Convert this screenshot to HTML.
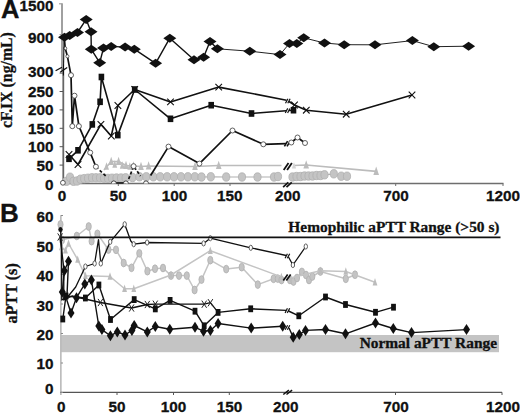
<!DOCTYPE html>
<html><head><meta charset="utf-8"><style>
html,body{margin:0;padding:0;background:#fff;}
svg{display:block;}
</style></head><body>
<svg width="520" height="413" viewBox="0 0 520 413">
<rect width="520" height="413" fill="#fff"/>
<line x1="62" y1="3.6" x2="62" y2="71" stroke="#a0a0a0" stroke-width="2"/>
<line x1="59" y1="3.8" x2="62.5" y2="3.8" stroke="#a0a0a0" stroke-width="1.2"/>
<line x1="59.5" y1="34.5" x2="62" y2="34.5" stroke="#a0a0a0" stroke-width="1"/>
<line x1="63.3" y1="68" x2="63.3" y2="183.5" stroke="#666" stroke-width="1.8"/>
<line x1="62" y1="183.5" x2="503.5" y2="183.5" stroke="#6e6e6e" stroke-width="1.3"/>
<line x1="59.6" y1="73.1" x2="63" y2="73.1" stroke="#555" stroke-width="1"/>
<line x1="59.6" y1="91.5" x2="63" y2="91.5" stroke="#555" stroke-width="1"/>
<line x1="59.6" y1="109.9" x2="63" y2="109.9" stroke="#555" stroke-width="1"/>
<line x1="59.6" y1="128.3" x2="63" y2="128.3" stroke="#555" stroke-width="1"/>
<line x1="59.6" y1="146.7" x2="63" y2="146.7" stroke="#555" stroke-width="1"/>
<line x1="59.6" y1="165.1" x2="63" y2="165.1" stroke="#555" stroke-width="1"/>
<line x1="118.3" y1="183.5" x2="118.3" y2="186" stroke="#6e6e6e" stroke-width="1"/>
<line x1="174.2" y1="183.5" x2="174.2" y2="186" stroke="#6e6e6e" stroke-width="1"/>
<line x1="230" y1="183.5" x2="230" y2="186" stroke="#6e6e6e" stroke-width="1"/>
<line x1="395.7" y1="183.5" x2="395.7" y2="186" stroke="#6e6e6e" stroke-width="1"/>
<line x1="503" y1="183.5" x2="503" y2="186" stroke="#6e6e6e" stroke-width="1"/>
<text x="1" y="17.8" font-family="&quot;Liberation Sans&quot;, sans-serif" font-size="25.5" font-weight="bold" text-anchor="start" fill="#111" stroke="#111" stroke-width="0.3" >A</text>
<text x="53.6" y="11.12" font-family="&quot;Liberation Sans&quot;, sans-serif" font-size="15.3" font-weight="bold" text-anchor="end" fill="#111" stroke="#111" stroke-width="0.3" >1500</text>
<text x="53.6" y="43.12" font-family="&quot;Liberation Sans&quot;, sans-serif" font-size="15.3" font-weight="bold" text-anchor="end" fill="#111" stroke="#111" stroke-width="0.3" >900</text>
<text x="53.6" y="77.42" font-family="&quot;Liberation Sans&quot;, sans-serif" font-size="15.3" font-weight="bold" text-anchor="end" fill="#111" stroke="#111" stroke-width="0.3" >300</text>
<text x="53.6" y="97.32" font-family="&quot;Liberation Sans&quot;, sans-serif" font-size="15.3" font-weight="bold" text-anchor="end" fill="#111" stroke="#111" stroke-width="0.3" >250</text>
<text x="53.6" y="115.02" font-family="&quot;Liberation Sans&quot;, sans-serif" font-size="15.3" font-weight="bold" text-anchor="end" fill="#111" stroke="#111" stroke-width="0.3" >200</text>
<text x="53.6" y="134.02" font-family="&quot;Liberation Sans&quot;, sans-serif" font-size="15.3" font-weight="bold" text-anchor="end" fill="#111" stroke="#111" stroke-width="0.3" >150</text>
<text x="53.6" y="152.42" font-family="&quot;Liberation Sans&quot;, sans-serif" font-size="15.3" font-weight="bold" text-anchor="end" fill="#111" stroke="#111" stroke-width="0.3" >100</text>
<text x="53.6" y="170.92" font-family="&quot;Liberation Sans&quot;, sans-serif" font-size="15.3" font-weight="bold" text-anchor="end" fill="#111" stroke="#111" stroke-width="0.3" >50</text>
<text x="53.6" y="189.52" font-family="&quot;Liberation Sans&quot;, sans-serif" font-size="15.3" font-weight="bold" text-anchor="end" fill="#111" stroke="#111" stroke-width="0.3" >0</text>
<text x="62" y="200.9" font-family="&quot;Liberation Sans&quot;, sans-serif" font-size="15.3" font-weight="bold" text-anchor="middle" fill="#111" stroke="#111" stroke-width="0.3" >0</text>
<text x="118.3" y="200.9" font-family="&quot;Liberation Sans&quot;, sans-serif" font-size="15.3" font-weight="bold" text-anchor="middle" fill="#111" stroke="#111" stroke-width="0.3" >50</text>
<text x="174.5" y="200.9" font-family="&quot;Liberation Sans&quot;, sans-serif" font-size="15.3" font-weight="bold" text-anchor="middle" fill="#111" stroke="#111" stroke-width="0.3" >100</text>
<text x="229.8" y="200.9" font-family="&quot;Liberation Sans&quot;, sans-serif" font-size="15.3" font-weight="bold" text-anchor="middle" fill="#111" stroke="#111" stroke-width="0.3" >150</text>
<text x="287.7" y="200.9" font-family="&quot;Liberation Sans&quot;, sans-serif" font-size="15.3" font-weight="bold" text-anchor="middle" fill="#111" stroke="#111" stroke-width="0.3" >200</text>
<text x="396" y="200.9" font-family="&quot;Liberation Sans&quot;, sans-serif" font-size="15.3" font-weight="bold" text-anchor="middle" fill="#111" stroke="#111" stroke-width="0.3" >700</text>
<text x="503" y="200.9" font-family="&quot;Liberation Sans&quot;, sans-serif" font-size="15.3" font-weight="bold" text-anchor="middle" fill="#111" stroke="#111" stroke-width="0.3" >1200</text>
<text x="0" y="0" font-family="&quot;Liberation Serif&quot;, serif" font-size="15.8" font-weight="bold" text-anchor="middle" fill="#111" stroke="#111" stroke-width="0.3" transform="translate(11.8,80.1) rotate(-90)">cF.IX (ng/mL)</text>
<path d="M55.6,70.8L62,67.2M60.2,72.2L67.2,67.5" stroke="#111" stroke-width="1.3"/>
<path d="M283.1,187.1L288.3,182.3" stroke="#111" stroke-width="1.7"/>
<path d="M286.5,187.1L291.7,182.3" stroke="#111" stroke-width="1.7"/>
<polyline points="104.0,170.0 111.2,161.5 118.6,161.5 126.0,165.5 133.5,166.0 141.0,166.5 148.6,166.0 195.0,166.5 218.7,165.5 281.5,165.5" fill="none" stroke="#bcbcbc" stroke-width="1.7" stroke-linejoin="round" />
<path d="M108.4,165.1L111.2,156.7L114.0,165.1Z" fill="#bcbcbc"/>
<path d="M115.8,165.1L118.6,156.7L121.4,165.1Z" fill="#bcbcbc"/>
<path d="M123.2,169.1L126.0,160.7L128.8,169.1Z" fill="#bcbcbc"/>
<path d="M130.7,169.6L133.5,161.2L136.3,169.6Z" fill="#bcbcbc"/>
<path d="M138.2,170.1L141.0,161.7L143.8,170.1Z" fill="#bcbcbc"/>
<path d="M145.8,169.6L148.6,161.2L151.4,169.6Z" fill="#bcbcbc"/>
<path d="M192.2,170.1L195.0,161.7L197.8,170.1Z" fill="#bcbcbc"/>
<path d="M215.9,169.1L218.7,160.7L221.5,169.1Z" fill="#bcbcbc"/>
<path d="M104.0,169.7L106.5,162.3L109.0,169.7Z" fill="#bcbcbc"/>
<path d="M112.3,167.7L114.8,160.3L117.2,167.7Z" fill="#bcbcbc"/>
<path d="M119.8,168.7L122.3,161.3L124.8,168.7Z" fill="#bcbcbc"/>
<path d="M127.4,169.7L129.8,162.3L132.2,169.7Z" fill="#bcbcbc"/>
<polyline points="293.0,165.5 306.2,165.0 376.2,171.3" fill="none" stroke="#bcbcbc" stroke-width="1.7" stroke-linejoin="round" />
<path d="M291.9,168.5L294.0,162.2L296.1,168.5Z" fill="#d4d4d4"/>
<path d="M303.4,168.6L306.2,160.2L309.0,168.6Z" fill="#bcbcbc"/>
<path d="M373.4,174.9L376.2,166.5L379.0,174.9Z" fill="#bcbcbc"/>
<polyline points="66.5,181.3 70.0,177.2 73.5,181.3 77.0,181.0 80.5,179.2 84.2,178.6 88.0,178.2 92.0,177.8 96.0,177.8 100.0,177.8 104.0,178.2 108.0,178.4 112.0,178.2 116.5,178.0 121.0,178.0 125.6,177.8 132.5,177.5 139.4,176.8 146.3,176.8 153.3,176.8 160.2,176.8 167.1,176.8 174.0,176.8 181.0,176.8 187.9,176.8 194.8,176.8 201.5,177.0 210.8,176.8 226.2,177.0 242.0,177.0 257.5,177.0 274.0,177.0 278.0,176.5" fill="none" stroke="#b0b0b0" stroke-width="1.2" stroke-linejoin="round" />
<ellipse cx="66.5" cy="181.3" rx="3.6" ry="4.2" fill="#c4c4c4" stroke="#b0b0b0" stroke-width="0.8"/>
<ellipse cx="70.0" cy="177.2" rx="3.6" ry="4.2" fill="#c4c4c4" stroke="#b0b0b0" stroke-width="0.8"/>
<ellipse cx="73.5" cy="181.3" rx="3.6" ry="4.2" fill="#c4c4c4" stroke="#b0b0b0" stroke-width="0.8"/>
<ellipse cx="77.0" cy="181.0" rx="3.6" ry="4.2" fill="#c4c4c4" stroke="#b0b0b0" stroke-width="0.8"/>
<ellipse cx="80.5" cy="179.2" rx="3.6" ry="4.2" fill="#c4c4c4" stroke="#b0b0b0" stroke-width="0.8"/>
<ellipse cx="84.2" cy="178.6" rx="3.6" ry="4.2" fill="#c4c4c4" stroke="#b0b0b0" stroke-width="0.8"/>
<ellipse cx="88.0" cy="178.2" rx="3.6" ry="4.2" fill="#c4c4c4" stroke="#b0b0b0" stroke-width="0.8"/>
<ellipse cx="92.0" cy="177.8" rx="3.6" ry="4.2" fill="#c4c4c4" stroke="#b0b0b0" stroke-width="0.8"/>
<ellipse cx="96.0" cy="177.8" rx="3.6" ry="4.2" fill="#c4c4c4" stroke="#b0b0b0" stroke-width="0.8"/>
<ellipse cx="100.0" cy="177.8" rx="3.6" ry="4.2" fill="#c4c4c4" stroke="#b0b0b0" stroke-width="0.8"/>
<ellipse cx="104.0" cy="178.2" rx="3.6" ry="4.2" fill="#c4c4c4" stroke="#b0b0b0" stroke-width="0.8"/>
<ellipse cx="108.0" cy="178.4" rx="3.6" ry="4.2" fill="#c4c4c4" stroke="#b0b0b0" stroke-width="0.8"/>
<ellipse cx="112.0" cy="178.2" rx="3.6" ry="4.2" fill="#c4c4c4" stroke="#b0b0b0" stroke-width="0.8"/>
<ellipse cx="116.5" cy="178.0" rx="3.6" ry="4.2" fill="#c4c4c4" stroke="#b0b0b0" stroke-width="0.8"/>
<ellipse cx="121.0" cy="178.0" rx="3.6" ry="4.2" fill="#c4c4c4" stroke="#b0b0b0" stroke-width="0.8"/>
<ellipse cx="125.6" cy="177.8" rx="3.6" ry="4.2" fill="#c4c4c4" stroke="#b0b0b0" stroke-width="0.8"/>
<ellipse cx="132.5" cy="177.5" rx="3.6" ry="4.2" fill="#c4c4c4" stroke="#b0b0b0" stroke-width="0.8"/>
<ellipse cx="139.4" cy="176.8" rx="3.6" ry="4.2" fill="#c4c4c4" stroke="#b0b0b0" stroke-width="0.8"/>
<ellipse cx="146.3" cy="176.8" rx="3.6" ry="4.2" fill="#c4c4c4" stroke="#b0b0b0" stroke-width="0.8"/>
<ellipse cx="153.3" cy="176.8" rx="3.6" ry="4.2" fill="#c4c4c4" stroke="#b0b0b0" stroke-width="0.8"/>
<ellipse cx="160.2" cy="176.8" rx="3.6" ry="4.2" fill="#c4c4c4" stroke="#b0b0b0" stroke-width="0.8"/>
<ellipse cx="167.1" cy="176.8" rx="3.6" ry="4.2" fill="#c4c4c4" stroke="#b0b0b0" stroke-width="0.8"/>
<ellipse cx="174.0" cy="176.8" rx="3.6" ry="4.2" fill="#c4c4c4" stroke="#b0b0b0" stroke-width="0.8"/>
<ellipse cx="181.0" cy="176.8" rx="3.6" ry="4.2" fill="#c4c4c4" stroke="#b0b0b0" stroke-width="0.8"/>
<ellipse cx="187.9" cy="176.8" rx="3.6" ry="4.2" fill="#c4c4c4" stroke="#b0b0b0" stroke-width="0.8"/>
<ellipse cx="194.8" cy="176.8" rx="3.6" ry="4.2" fill="#c4c4c4" stroke="#b0b0b0" stroke-width="0.8"/>
<ellipse cx="201.5" cy="177.0" rx="3.6" ry="4.2" fill="#c4c4c4" stroke="#b0b0b0" stroke-width="0.8"/>
<ellipse cx="210.8" cy="176.8" rx="3.6" ry="4.2" fill="#c4c4c4" stroke="#b0b0b0" stroke-width="0.8"/>
<ellipse cx="226.2" cy="177.0" rx="3.6" ry="4.2" fill="#c4c4c4" stroke="#b0b0b0" stroke-width="0.8"/>
<ellipse cx="242.0" cy="177.0" rx="3.6" ry="4.2" fill="#c4c4c4" stroke="#b0b0b0" stroke-width="0.8"/>
<ellipse cx="257.5" cy="177.0" rx="3.6" ry="4.2" fill="#c4c4c4" stroke="#b0b0b0" stroke-width="0.8"/>
<ellipse cx="274.0" cy="177.0" rx="3.6" ry="4.2" fill="#c4c4c4" stroke="#b0b0b0" stroke-width="0.8"/>
<ellipse cx="278.0" cy="176.5" rx="3.6" ry="4.2" fill="#c4c4c4" stroke="#b0b0b0" stroke-width="0.8"/>
<polyline points="292.5,177.0 296.5,176.5 300.5,176.5 304.5,176.0 308.5,176.0 312.5,176.0 316.5,175.5 320.5,175.5 324.5,174.8 333.8,173.8 341.2,176.2 347.0,176.2" fill="none" stroke="#b0b0b0" stroke-width="1.2" stroke-linejoin="round" />
<ellipse cx="292.5" cy="177.0" rx="3.6" ry="4.2" fill="#c4c4c4" stroke="#b0b0b0" stroke-width="0.8"/>
<ellipse cx="296.5" cy="176.5" rx="3.6" ry="4.2" fill="#c4c4c4" stroke="#b0b0b0" stroke-width="0.8"/>
<ellipse cx="300.5" cy="176.5" rx="3.6" ry="4.2" fill="#c4c4c4" stroke="#b0b0b0" stroke-width="0.8"/>
<ellipse cx="304.5" cy="176.0" rx="3.6" ry="4.2" fill="#c4c4c4" stroke="#b0b0b0" stroke-width="0.8"/>
<ellipse cx="308.5" cy="176.0" rx="3.6" ry="4.2" fill="#c4c4c4" stroke="#b0b0b0" stroke-width="0.8"/>
<ellipse cx="312.5" cy="176.0" rx="3.6" ry="4.2" fill="#c4c4c4" stroke="#b0b0b0" stroke-width="0.8"/>
<ellipse cx="316.5" cy="175.5" rx="3.6" ry="4.2" fill="#c4c4c4" stroke="#b0b0b0" stroke-width="0.8"/>
<ellipse cx="320.5" cy="175.5" rx="3.6" ry="4.2" fill="#c4c4c4" stroke="#b0b0b0" stroke-width="0.8"/>
<ellipse cx="324.5" cy="174.8" rx="3.6" ry="4.2" fill="#c4c4c4" stroke="#b0b0b0" stroke-width="0.8"/>
<ellipse cx="333.8" cy="173.8" rx="3.6" ry="4.2" fill="#c4c4c4" stroke="#b0b0b0" stroke-width="0.8"/>
<ellipse cx="341.2" cy="176.2" rx="3.6" ry="4.2" fill="#c4c4c4" stroke="#b0b0b0" stroke-width="0.8"/>
<ellipse cx="347.0" cy="176.2" rx="3.6" ry="4.2" fill="#c4c4c4" stroke="#b0b0b0" stroke-width="0.8"/>
<polyline points="64.5,40.0 65.2,48.3 67.4,56.3 71.0,75.2 72.3,126.2 74.5,95.7 78.9,126.2 90.2,152.6 95.9,166.7" fill="none" stroke="#111" stroke-width="1.7" stroke-linejoin="round" />
<polyline points="95.9,166.7 105.7,175.9" fill="none" stroke="#111" stroke-width="1.7" stroke-dasharray="3,2.2" stroke-linejoin="round" />
<polyline points="113.8,182.9 125.9,182.9" fill="none" stroke="#111" stroke-width="1.5" stroke-linejoin="round" />
<polyline points="128.7,179.0 133.6,166.2 140.5,176.0" fill="none" stroke="#111" stroke-width="1.7" stroke-dasharray="3,2" stroke-linejoin="round" />
<polyline points="150.6,175.5 168.5,146.6 199.4,163.6 232.5,130.5 263.3,144.3 286.0,143.6" fill="none" stroke="#111" stroke-width="1.7" stroke-linejoin="round" />
<polyline points="289.0,142.8 291.3,142.5 297.5,137.5 305.0,143.0" fill="none" stroke="#111" stroke-width="1.7" stroke-linejoin="round" />
<path d="M283.7,170.1L288.5,162.9" stroke="#111" stroke-width="1.8"/>
<path d="M287.1,170.1L291.9,162.9" stroke="#111" stroke-width="1.8"/>
<polyline points="64.5,37.2 69.7,35.5 77.5,32.5 86.2,19.4 91.0,31.7 91.3,49.3 99.7,62.7 103.5,48.1 111.2,46.4 125.1,47.1 134.3,49.2 155.6,63.3 169.8,38.2 194.0,59.8 203.6,57.2 210.0,41.6 217.4,48.8" fill="none" stroke="#111" stroke-width="1.4" stroke-linejoin="round" />
<polyline points="217.4,48.8 249.8,51.2 280.0,54.6 289.5,43.4 296.8,43.4 303.7,37.8 324.5,43.0 344.2,44.7 375.0,44.8 412.4,40.6 433.8,46.7 468.6,46.2" fill="none" stroke="#222" stroke-width="1.0" stroke-linejoin="round" />
<path d="M58.0,37.2L64.5,32.7L71.0,37.2L64.5,41.7Z" fill="#111"/>
<path d="M63.2,35.5L69.7,31.0L76.2,35.5L69.7,40.0Z" fill="#111"/>
<path d="M71.0,32.5L77.5,28.0L84.0,32.5L77.5,37.0Z" fill="#111"/>
<path d="M79.7,19.4L86.2,14.9L92.7,19.4L86.2,23.9Z" fill="#111"/>
<path d="M84.5,31.7L91.0,27.2L97.5,31.7L91.0,36.2Z" fill="#111"/>
<path d="M84.8,49.3L91.3,44.8L97.8,49.3L91.3,53.8Z" fill="#111"/>
<path d="M93.2,62.7L99.7,58.2L106.2,62.7L99.7,67.2Z" fill="#111"/>
<path d="M97.0,48.1L103.5,43.6L110.0,48.1L103.5,52.6Z" fill="#111"/>
<path d="M104.7,46.4L111.2,41.9L117.7,46.4L111.2,50.9Z" fill="#111"/>
<path d="M118.6,47.1L125.1,42.6L131.6,47.1L125.1,51.6Z" fill="#111"/>
<path d="M127.8,49.2L134.3,44.7L140.8,49.2L134.3,53.7Z" fill="#111"/>
<path d="M149.1,63.3L155.6,58.8L162.1,63.3L155.6,67.8Z" fill="#111"/>
<path d="M163.3,38.2L169.8,33.7L176.3,38.2L169.8,42.7Z" fill="#111"/>
<path d="M187.5,59.8L194.0,55.3L200.5,59.8L194.0,64.3Z" fill="#111"/>
<path d="M197.1,57.2L203.6,52.7L210.1,57.2L203.6,61.7Z" fill="#111"/>
<path d="M203.5,41.6L210.0,37.1L216.5,41.6L210.0,46.1Z" fill="#111"/>
<path d="M210.9,48.8L217.4,44.3L223.9,48.8L217.4,53.3Z" fill="#111"/>
<path d="M243.3,51.2L249.8,46.7L256.3,51.2L249.8,55.7Z" fill="#111"/>
<path d="M273.5,54.6L280.0,50.1L286.5,54.6L280.0,59.1Z" fill="#111"/>
<path d="M283.0,43.4L289.5,38.9L296.0,43.4L289.5,47.9Z" fill="#111"/>
<path d="M290.3,43.4L296.8,38.9L303.3,43.4L296.8,47.9Z" fill="#111"/>
<path d="M297.2,37.8L303.7,33.3L310.2,37.8L303.7,42.3Z" fill="#111"/>
<path d="M318.0,43.0L324.5,38.5L331.0,43.0L324.5,47.5Z" fill="#111"/>
<path d="M337.7,44.7L344.2,40.2L350.7,44.7L344.2,49.2Z" fill="#111"/>
<path d="M368.5,44.8L375.0,40.3L381.5,44.8L375.0,49.3Z" fill="#111"/>
<path d="M405.9,40.6L412.4,36.1L418.9,40.6L412.4,45.1Z" fill="#111"/>
<path d="M427.3,46.7L433.8,42.2L440.3,46.7L433.8,51.2Z" fill="#111"/>
<path d="M462.1,46.2L468.6,41.7L475.1,46.2L468.6,50.7Z" fill="#111"/>
<path d="M284.4,146.4L287.6,141.2" stroke="#111" stroke-width="1.6"/>
<path d="M287.0,146.4L290.2,141.2" stroke="#111" stroke-width="1.6"/>
<circle cx="65.2" cy="48.3" r="1.6" fill="#fff" stroke="#444" stroke-width="0.8"/>
<circle cx="67.4" cy="56.3" r="1.6" fill="#fff" stroke="#444" stroke-width="0.8"/>
<clipPath id="cpA"><rect x="0" y="0" width="520" height="183.6"/></clipPath>
<g clip-path="url(#cpA)">
<circle cx="113.8" cy="183.4" r="2.5" fill="#fff" stroke="#333" stroke-width="0.85"/>
<circle cx="125.9" cy="183.4" r="2.5" fill="#fff" stroke="#333" stroke-width="0.85"/>
<circle cx="146.0" cy="183.4" r="2.5" fill="#fff" stroke="#333" stroke-width="0.85"/>
</g>
<circle cx="71.0" cy="75.2" r="2.5" fill="#fff" stroke="#444" stroke-width="0.85"/>
<circle cx="72.3" cy="126.2" r="2.5" fill="#fff" stroke="#444" stroke-width="0.85"/>
<circle cx="74.5" cy="95.7" r="2.5" fill="#fff" stroke="#444" stroke-width="0.85"/>
<circle cx="78.9" cy="126.2" r="2.5" fill="#fff" stroke="#444" stroke-width="0.85"/>
<circle cx="90.2" cy="152.6" r="2.5" fill="#fff" stroke="#444" stroke-width="0.85"/>
<circle cx="95.9" cy="166.7" r="2.5" fill="#fff" stroke="#444" stroke-width="0.85"/>
<circle cx="133.6" cy="166.2" r="2.5" fill="#fff" stroke="#444" stroke-width="0.85"/>
<circle cx="168.5" cy="146.6" r="2.5" fill="#fff" stroke="#444" stroke-width="0.85"/>
<circle cx="199.4" cy="163.6" r="2.5" fill="#fff" stroke="#444" stroke-width="0.85"/>
<circle cx="232.5" cy="130.5" r="2.5" fill="#fff" stroke="#444" stroke-width="0.85"/>
<circle cx="263.3" cy="144.3" r="2.5" fill="#fff" stroke="#444" stroke-width="0.85"/>
<circle cx="291.3" cy="142.5" r="2.5" fill="#fff" stroke="#444" stroke-width="0.85"/>
<circle cx="297.5" cy="137.5" r="2.5" fill="#fff" stroke="#444" stroke-width="0.85"/>
<circle cx="305.0" cy="143.0" r="2.5" fill="#fff" stroke="#444" stroke-width="0.85"/>
<circle cx="62.9" cy="182.8" r="2.4" fill="#fff" stroke="#555" stroke-width="1"/>
<polyline points="64.0,40.0 63.4,75.5" fill="none" stroke="#111" stroke-width="1.1" stroke-linejoin="round" />
<polyline points="69.0,158.8 78.0,150.3 92.3,124.4 100.1,101.8 101.4,77.0 117.8,135.1 134.7,89.5 170.5,118.8 211.2,105.2 251.5,113.5 286.0,110.8" fill="none" stroke="#111" stroke-width="1.6" stroke-linejoin="round" />
<polyline points="289.0,110.5 293.5,110.2" fill="none" stroke="#111" stroke-width="1.6" stroke-linejoin="round" />
<rect x="66.2" y="155.5" width="5.6" height="6.6" fill="#111"/>
<rect x="75.2" y="147.0" width="5.6" height="6.6" fill="#111"/>
<rect x="89.5" y="121.1" width="5.6" height="6.6" fill="#111"/>
<rect x="97.3" y="98.5" width="5.6" height="6.6" fill="#111"/>
<rect x="98.6" y="73.7" width="5.6" height="6.6" fill="#111"/>
<rect x="115.0" y="131.8" width="5.6" height="6.6" fill="#111"/>
<rect x="131.9" y="86.2" width="5.6" height="6.6" fill="#111"/>
<rect x="167.7" y="115.5" width="5.6" height="6.6" fill="#111"/>
<rect x="208.4" y="101.9" width="5.6" height="6.6" fill="#111"/>
<rect x="248.7" y="110.2" width="5.6" height="6.6" fill="#111"/>
<rect x="290.7" y="106.9" width="5.6" height="6.6" fill="#111"/>
<path d="M285.3,113.0L287.7,108.4" stroke="#111" stroke-width="1.2"/>
<path d="M287.6,113.0L289.9,108.4" stroke="#111" stroke-width="1.2"/>
<polyline points="69.0,154.5 78.0,164.5 100.9,124.4 111.3,136.0 117.9,105.5 134.7,89.5 170.5,101.9 218.7,87.1 286.5,100.2" fill="none" stroke="#111" stroke-width="1.6" stroke-linejoin="round" />
<polyline points="289.0,101.5 294.5,105.0 306.3,110.2 346.2,114.2 412.0,95.0" fill="none" stroke="#111" stroke-width="1.6" stroke-linejoin="round" />
<path d="M65.7,151.2L72.3,157.8M65.7,157.8L72.3,151.2" stroke="#111" stroke-width="1.1" fill="none"/>
<path d="M74.7,161.2L81.3,167.8M74.7,167.8L81.3,161.2" stroke="#111" stroke-width="1.1" fill="none"/>
<path d="M97.6,121.1L104.2,127.7M97.6,127.7L104.2,121.1" stroke="#111" stroke-width="1.1" fill="none"/>
<path d="M108.0,132.7L114.6,139.3M108.0,139.3L114.6,132.7" stroke="#111" stroke-width="1.1" fill="none"/>
<path d="M114.6,102.2L121.2,108.8M114.6,108.8L121.2,102.2" stroke="#111" stroke-width="1.1" fill="none"/>
<path d="M131.4,86.2L138.0,92.8M131.4,92.8L138.0,86.2" stroke="#111" stroke-width="1.1" fill="none"/>
<path d="M167.2,98.6L173.8,105.2M167.2,105.2L173.8,98.6" stroke="#111" stroke-width="1.1" fill="none"/>
<path d="M215.4,83.8L222.0,90.4M215.4,90.4L222.0,83.8" stroke="#111" stroke-width="1.1" fill="none"/>
<path d="M291.2,101.7L297.8,108.3M291.2,108.3L297.8,101.7" stroke="#111" stroke-width="1.1" fill="none"/>
<path d="M303.0,106.9L309.6,113.5M303.0,113.5L309.6,106.9" stroke="#111" stroke-width="1.1" fill="none"/>
<path d="M342.9,110.9L349.5,117.5M342.9,117.5L349.5,110.9" stroke="#111" stroke-width="1.1" fill="none"/>
<path d="M408.7,91.7L415.3,98.3M408.7,98.3L415.3,91.7" stroke="#111" stroke-width="1.1" fill="none"/>
<path d="M285.5,103.3L287.9,98.7" stroke="#111" stroke-width="1.2"/>
<path d="M287.8,103.3L290.1,98.7" stroke="#111" stroke-width="1.2"/>
<rect x="61.4" y="335" width="437.6" height="17.2" fill="#c4c4c4"/>
<line x1="60.9" y1="215.3" x2="60.9" y2="395" stroke="#9a9a9a" stroke-width="1.1"/>
<line x1="60.5" y1="392.3" x2="502" y2="392.3" stroke="#555" stroke-width="1.3"/>
<line x1="60.9" y1="392.5" x2="63" y2="392.5" stroke="#8a8a8a" stroke-width="1"/>
<line x1="60.9" y1="363.0" x2="63" y2="363.0" stroke="#8a8a8a" stroke-width="1"/>
<line x1="60.9" y1="333.5" x2="63" y2="333.5" stroke="#8a8a8a" stroke-width="1"/>
<line x1="60.9" y1="304.0" x2="63" y2="304.0" stroke="#8a8a8a" stroke-width="1"/>
<line x1="60.9" y1="274.5" x2="63" y2="274.5" stroke="#8a8a8a" stroke-width="1"/>
<line x1="60.9" y1="245.0" x2="63" y2="245.0" stroke="#8a8a8a" stroke-width="1"/>
<line x1="60.9" y1="215.5" x2="63" y2="215.5" stroke="#8a8a8a" stroke-width="1"/>
<line x1="117" y1="392.3" x2="117" y2="395" stroke="#555" stroke-width="1"/>
<line x1="173.5" y1="392.3" x2="173.5" y2="395" stroke="#555" stroke-width="1"/>
<line x1="229.3" y1="392.3" x2="229.3" y2="395" stroke="#555" stroke-width="1"/>
<line x1="395.5" y1="392.3" x2="395.5" y2="395" stroke="#555" stroke-width="1"/>
<line x1="502" y1="392.3" x2="502" y2="395" stroke="#555" stroke-width="1"/>
<text x="0" y="222" font-family="&quot;Liberation Sans&quot;, sans-serif" font-size="26" font-weight="bold" text-anchor="start" fill="#111" stroke="#111" stroke-width="0.3" >B</text>
<text x="53.6" y="221.72" font-family="&quot;Liberation Sans&quot;, sans-serif" font-size="15.3" font-weight="bold" text-anchor="end" fill="#111" stroke="#111" stroke-width="0.3" >60</text>
<text x="53.6" y="251.72" font-family="&quot;Liberation Sans&quot;, sans-serif" font-size="15.3" font-weight="bold" text-anchor="end" fill="#111" stroke="#111" stroke-width="0.3" >50</text>
<text x="53.6" y="281.02" font-family="&quot;Liberation Sans&quot;, sans-serif" font-size="15.3" font-weight="bold" text-anchor="end" fill="#111" stroke="#111" stroke-width="0.3" >40</text>
<text x="53.6" y="310.92" font-family="&quot;Liberation Sans&quot;, sans-serif" font-size="15.3" font-weight="bold" text-anchor="end" fill="#111" stroke="#111" stroke-width="0.3" >30</text>
<text x="53.6" y="339.92" font-family="&quot;Liberation Sans&quot;, sans-serif" font-size="15.3" font-weight="bold" text-anchor="end" fill="#111" stroke="#111" stroke-width="0.3" >20</text>
<text x="53.6" y="369.02" font-family="&quot;Liberation Sans&quot;, sans-serif" font-size="15.3" font-weight="bold" text-anchor="end" fill="#111" stroke="#111" stroke-width="0.3" >10</text>
<text x="53.6" y="394.42" font-family="&quot;Liberation Sans&quot;, sans-serif" font-size="15.3" font-weight="bold" text-anchor="end" fill="#111" stroke="#111" stroke-width="0.3" >0</text>
<text x="61.3" y="412.3" font-family="&quot;Liberation Sans&quot;, sans-serif" font-size="15.3" font-weight="bold" text-anchor="middle" fill="#111" stroke="#111" stroke-width="0.3" >0</text>
<text x="116.9" y="412.3" font-family="&quot;Liberation Sans&quot;, sans-serif" font-size="15.3" font-weight="bold" text-anchor="middle" fill="#111" stroke="#111" stroke-width="0.3" >50</text>
<text x="173.4" y="412.3" font-family="&quot;Liberation Sans&quot;, sans-serif" font-size="15.3" font-weight="bold" text-anchor="middle" fill="#111" stroke="#111" stroke-width="0.3" >100</text>
<text x="229.4" y="412.3" font-family="&quot;Liberation Sans&quot;, sans-serif" font-size="15.3" font-weight="bold" text-anchor="middle" fill="#111" stroke="#111" stroke-width="0.3" >150</text>
<text x="285.7" y="412.3" font-family="&quot;Liberation Sans&quot;, sans-serif" font-size="15.3" font-weight="bold" text-anchor="middle" fill="#111" stroke="#111" stroke-width="0.3" >200</text>
<text x="396" y="412.3" font-family="&quot;Liberation Sans&quot;, sans-serif" font-size="15.3" font-weight="bold" text-anchor="middle" fill="#111" stroke="#111" stroke-width="0.3" >700</text>
<text x="503" y="412.3" font-family="&quot;Liberation Sans&quot;, sans-serif" font-size="15.3" font-weight="bold" text-anchor="middle" fill="#111" stroke="#111" stroke-width="0.3" >1200</text>
<text x="0" y="0" font-family="&quot;Liberation Serif&quot;, serif" font-size="16.2" font-weight="bold" text-anchor="middle" fill="#111" stroke="#111" stroke-width="0.3" transform="translate(17,293.4) rotate(-90)">aPTT (s)</text>
<path d="M283.3,394.5L288.9,390.1" stroke="#111" stroke-width="1.5"/>
<path d="M286.5,394.5L292.1,390.1" stroke="#111" stroke-width="1.5"/>
<text x="499.5" y="232" font-family="&quot;Liberation Serif&quot;, serif" font-size="15.4" font-weight="bold" text-anchor="end" fill="#111" stroke="#111" stroke-width="0.3" >Hemophilic aPTT Range (&gt;50 s)</text>
<text x="497" y="347.6" font-family="&quot;Liberation Serif&quot;, serif" font-size="15.4" font-weight="bold" text-anchor="end" fill="#111" stroke="#111" stroke-width="0.3" >Normal aPTT Range</text>
<polyline points="60.5,224.5 62.0,240.0 76.8,236.0 88.7,226.5 91.6,241.2 97.4,233.8 108.4,249.6 116.0,249.8 123.7,263.0 131.5,267.8 139.3,253.3 147.4,271.2 155.0,268.7 163.0,268.0 171.0,275.6 179.0,275.6 186.8,275.6 194.6,290.0 201.5,279.6 210.3,260.2 226.2,269.1 241.7,267.2 257.8,284.6 273.6,278.8 277.8,278.6 281.5,280.0" fill="none" stroke="#c4c4c4" stroke-width="1.5" stroke-linejoin="round" />
<ellipse cx="60.5" cy="224.5" rx="2.6" ry="3.9" fill="#c4c4c4" stroke="#b0b0b0" stroke-width="0.8"/>
<ellipse cx="62.0" cy="240.0" rx="2.6" ry="3.9" fill="#c4c4c4" stroke="#b0b0b0" stroke-width="0.8"/>
<ellipse cx="76.8" cy="236.0" rx="2.6" ry="3.9" fill="#c4c4c4" stroke="#b0b0b0" stroke-width="0.8"/>
<ellipse cx="88.7" cy="226.5" rx="2.6" ry="3.9" fill="#c4c4c4" stroke="#b0b0b0" stroke-width="0.8"/>
<ellipse cx="91.6" cy="241.2" rx="2.6" ry="3.9" fill="#c4c4c4" stroke="#b0b0b0" stroke-width="0.8"/>
<ellipse cx="97.4" cy="233.8" rx="2.6" ry="3.9" fill="#c4c4c4" stroke="#b0b0b0" stroke-width="0.8"/>
<ellipse cx="108.4" cy="249.6" rx="2.6" ry="3.9" fill="#c4c4c4" stroke="#b0b0b0" stroke-width="0.8"/>
<ellipse cx="116.0" cy="249.8" rx="2.6" ry="3.9" fill="#c4c4c4" stroke="#b0b0b0" stroke-width="0.8"/>
<ellipse cx="123.7" cy="263.0" rx="2.6" ry="3.9" fill="#c4c4c4" stroke="#b0b0b0" stroke-width="0.8"/>
<ellipse cx="131.5" cy="267.8" rx="2.6" ry="3.9" fill="#c4c4c4" stroke="#b0b0b0" stroke-width="0.8"/>
<ellipse cx="139.3" cy="253.3" rx="2.6" ry="3.9" fill="#c4c4c4" stroke="#b0b0b0" stroke-width="0.8"/>
<ellipse cx="147.4" cy="271.2" rx="2.6" ry="3.9" fill="#c4c4c4" stroke="#b0b0b0" stroke-width="0.8"/>
<ellipse cx="155.0" cy="268.7" rx="2.6" ry="3.9" fill="#c4c4c4" stroke="#b0b0b0" stroke-width="0.8"/>
<ellipse cx="163.0" cy="268.0" rx="2.6" ry="3.9" fill="#c4c4c4" stroke="#b0b0b0" stroke-width="0.8"/>
<ellipse cx="171.0" cy="275.6" rx="2.6" ry="3.9" fill="#c4c4c4" stroke="#b0b0b0" stroke-width="0.8"/>
<ellipse cx="179.0" cy="275.6" rx="2.6" ry="3.9" fill="#c4c4c4" stroke="#b0b0b0" stroke-width="0.8"/>
<ellipse cx="186.8" cy="275.6" rx="2.6" ry="3.9" fill="#c4c4c4" stroke="#b0b0b0" stroke-width="0.8"/>
<ellipse cx="194.6" cy="290.0" rx="2.6" ry="3.9" fill="#c4c4c4" stroke="#b0b0b0" stroke-width="0.8"/>
<ellipse cx="201.5" cy="279.6" rx="2.6" ry="3.9" fill="#c4c4c4" stroke="#b0b0b0" stroke-width="0.8"/>
<ellipse cx="210.3" cy="260.2" rx="2.6" ry="3.9" fill="#c4c4c4" stroke="#b0b0b0" stroke-width="0.8"/>
<ellipse cx="226.2" cy="269.1" rx="2.6" ry="3.9" fill="#c4c4c4" stroke="#b0b0b0" stroke-width="0.8"/>
<ellipse cx="241.7" cy="267.2" rx="2.6" ry="3.9" fill="#c4c4c4" stroke="#b0b0b0" stroke-width="0.8"/>
<ellipse cx="257.8" cy="284.6" rx="2.6" ry="3.9" fill="#c4c4c4" stroke="#b0b0b0" stroke-width="0.8"/>
<ellipse cx="273.6" cy="278.8" rx="2.6" ry="3.9" fill="#c4c4c4" stroke="#b0b0b0" stroke-width="0.8"/>
<ellipse cx="277.8" cy="278.6" rx="2.6" ry="3.9" fill="#c4c4c4" stroke="#b0b0b0" stroke-width="0.8"/>
<ellipse cx="281.5" cy="280.0" rx="2.6" ry="3.9" fill="#c4c4c4" stroke="#b0b0b0" stroke-width="0.8"/>
<polyline points="290.0,280.0 293.5,281.5 297.0,278.0 301.9,271.9 306.0,275.0 309.0,280.0 312.3,276.5 320.4,271.5 345.8,278.8 355.0,274.7" fill="none" stroke="#c4c4c4" stroke-width="1.5" stroke-linejoin="round" />
<ellipse cx="290.0" cy="280.0" rx="2.6" ry="3.9" fill="#c4c4c4" stroke="#b0b0b0" stroke-width="0.8"/>
<ellipse cx="293.5" cy="281.5" rx="2.6" ry="3.9" fill="#c4c4c4" stroke="#b0b0b0" stroke-width="0.8"/>
<ellipse cx="297.0" cy="278.0" rx="2.6" ry="3.9" fill="#c4c4c4" stroke="#b0b0b0" stroke-width="0.8"/>
<ellipse cx="301.9" cy="271.9" rx="2.6" ry="3.9" fill="#c4c4c4" stroke="#b0b0b0" stroke-width="0.8"/>
<ellipse cx="306.0" cy="275.0" rx="2.6" ry="3.9" fill="#c4c4c4" stroke="#b0b0b0" stroke-width="0.8"/>
<ellipse cx="309.0" cy="280.0" rx="2.6" ry="3.9" fill="#c4c4c4" stroke="#b0b0b0" stroke-width="0.8"/>
<ellipse cx="312.3" cy="276.5" rx="2.6" ry="3.9" fill="#c4c4c4" stroke="#b0b0b0" stroke-width="0.8"/>
<ellipse cx="320.4" cy="271.5" rx="2.6" ry="3.9" fill="#c4c4c4" stroke="#b0b0b0" stroke-width="0.8"/>
<ellipse cx="345.8" cy="278.8" rx="2.6" ry="3.9" fill="#c4c4c4" stroke="#b0b0b0" stroke-width="0.8"/>
<ellipse cx="355.0" cy="274.7" rx="2.6" ry="3.9" fill="#c4c4c4" stroke="#b0b0b0" stroke-width="0.8"/>
<polyline points="61.5,247.0 65.4,250.4 68.5,243.5 77.7,259.6 85.4,275.8 110.0,276.5 124.6,288.8 133.8,288.8 171.0,275.0 210.3,250.7 281.4,276.9" fill="none" stroke="#c4c4c4" stroke-width="1.5" stroke-linejoin="round" />
<path d="M59.0,250.2L61.5,242.8L64.0,250.2Z" fill="#bcbcbc"/>
<path d="M63.0,253.6L65.4,246.2L67.9,253.6Z" fill="#bcbcbc"/>
<path d="M66.0,246.7L68.5,239.3L71.0,246.7Z" fill="#bcbcbc"/>
<path d="M75.2,262.8L77.7,255.4L80.2,262.8Z" fill="#bcbcbc"/>
<path d="M83.0,279.0L85.4,271.6L87.9,279.0Z" fill="#bcbcbc"/>
<path d="M107.5,279.7L110.0,272.3L112.5,279.7Z" fill="#bcbcbc"/>
<path d="M122.1,292.0L124.6,284.6L127.0,292.0Z" fill="#bcbcbc"/>
<path d="M131.4,292.0L133.8,284.6L136.2,292.0Z" fill="#bcbcbc"/>
<path d="M168.6,278.2L171.0,270.8L173.4,278.2Z" fill="#bcbcbc"/>
<path d="M207.9,253.9L210.3,246.5L212.8,253.9Z" fill="#bcbcbc"/>
<path d="M278.9,280.1L281.4,272.7L283.8,280.1Z" fill="#bcbcbc"/>
<polyline points="290.0,278.0 320.4,270.8 345.8,271.5 375.0,282.3" fill="none" stroke="#c4c4c4" stroke-width="1.5" stroke-linejoin="round" />
<path d="M287.6,281.2L290.0,273.8L292.4,281.2Z" fill="#bcbcbc"/>
<path d="M317.9,274.0L320.4,266.6L322.8,274.0Z" fill="#bcbcbc"/>
<path d="M343.4,274.7L345.8,267.3L348.2,274.7Z" fill="#bcbcbc"/>
<path d="M372.6,285.5L375.0,278.1L377.4,285.5Z" fill="#bcbcbc"/>
<path d="M283.3,280.5L287.7,274.5" stroke="#111" stroke-width="1.7"/>
<path d="M286.3,280.5L290.7,274.5" stroke="#111" stroke-width="1.7"/>
<polyline points="60.5,229.0 61.6,247.0 61.8,300.0 68.0,296.5 75.7,287.0 85.4,266.5 94.6,263.5 98.5,239.6 100.8,263.5 110.2,241.8 124.7,224.3 130.8,241.0 133.7,244.2 147.1,242.5 203.6,243.4 210.3,238.2 250.8,247.8 286.2,255.5" fill="none" stroke="#111" stroke-width="1.3" stroke-linejoin="round" />
<polyline points="288.5,257.0 292.9,265.0 305.8,246.5" fill="none" stroke="#111" stroke-width="1.3" stroke-linejoin="round" />
<ellipse cx="60.5" cy="229.5" rx="2.2" ry="2.6" fill="#111"/>
<ellipse cx="85.4" cy="266.5" rx="1.7" ry="2.6" fill="#fff" stroke="#444" stroke-width="0.85"/>
<ellipse cx="94.6" cy="263.5" rx="1.7" ry="2.6" fill="#fff" stroke="#444" stroke-width="0.85"/>
<ellipse cx="100.8" cy="263.5" rx="1.7" ry="2.6" fill="#fff" stroke="#444" stroke-width="0.85"/>
<ellipse cx="110.2" cy="241.8" rx="1.7" ry="2.6" fill="#fff" stroke="#444" stroke-width="0.85"/>
<ellipse cx="124.7" cy="224.3" rx="1.7" ry="2.6" fill="#fff" stroke="#444" stroke-width="0.85"/>
<ellipse cx="133.7" cy="244.2" rx="1.7" ry="2.6" fill="#fff" stroke="#444" stroke-width="0.85"/>
<ellipse cx="147.1" cy="242.5" rx="1.7" ry="2.6" fill="#fff" stroke="#444" stroke-width="0.85"/>
<ellipse cx="203.6" cy="243.4" rx="1.7" ry="2.6" fill="#fff" stroke="#444" stroke-width="0.85"/>
<ellipse cx="210.3" cy="238.2" rx="1.7" ry="2.6" fill="#fff" stroke="#444" stroke-width="0.85"/>
<ellipse cx="250.8" cy="247.8" rx="1.7" ry="2.6" fill="#fff" stroke="#444" stroke-width="0.85"/>
<ellipse cx="292.9" cy="265.0" rx="1.7" ry="2.6" fill="#fff" stroke="#444" stroke-width="0.85"/>
<ellipse cx="305.8" cy="246.5" rx="1.7" ry="2.6" fill="#fff" stroke="#444" stroke-width="0.85"/>
<path d="M285.1,258.3L287.4,253.7" stroke="#111" stroke-width="1.2"/>
<path d="M287.3,258.3L289.7,253.7" stroke="#111" stroke-width="1.2"/>
<polyline points="60.1,237.0 63.8,268.0 63.8,300.0 72.0,296.0 100.4,302.5 131.6,308.0 147.3,304.5 155.3,304.2 204.2,304.2 210.4,302.7 218.1,312.4" fill="none" stroke="#111" stroke-width="1.3" stroke-linejoin="round" />
<path d="M57.7,233.4L62.5,240.6M57.7,240.6L62.5,233.4" stroke="#222" stroke-width="1" fill="none"/>
<path d="M98.0,298.9L102.8,306.1M98.0,306.1L102.8,298.9" stroke="#222" stroke-width="1" fill="none"/>
<path d="M129.2,304.4L134.0,311.6M129.2,311.6L134.0,304.4" stroke="#222" stroke-width="1" fill="none"/>
<path d="M144.9,300.9L149.7,308.1M144.9,308.1L149.7,300.9" stroke="#222" stroke-width="1" fill="none"/>
<path d="M152.9,300.6L157.7,307.8M152.9,307.8L157.7,300.6" stroke="#222" stroke-width="1" fill="none"/>
<path d="M201.8,300.6L206.6,307.8M201.8,307.8L206.6,300.6" stroke="#222" stroke-width="1" fill="none"/>
<path d="M208.0,299.1L212.8,306.3M208.0,306.3L212.8,299.1" stroke="#222" stroke-width="1" fill="none"/>
<polyline points="62.8,319.0 66.0,296.0 85.4,298.0 98.9,285.0 110.5,319.5 134.2,299.6 155.3,308.9 170.1,300.4 195.0,311.2 204.2,325.8 218.1,312.4 250.7,308.8 286.3,310.4" fill="none" stroke="#111" stroke-width="1.4" stroke-linejoin="round" />
<polyline points="288.5,311.0 298.8,315.8 325.5,297.0 345.5,304.5 375.5,312.3 393.5,307.2" fill="none" stroke="#111" stroke-width="1.4" stroke-linejoin="round" />
<rect x="60.4" y="315.6" width="4.8" height="6.8" fill="#111"/>
<rect x="63.6" y="292.6" width="4.8" height="6.8" fill="#111"/>
<rect x="83.0" y="294.6" width="4.8" height="6.8" fill="#111"/>
<rect x="96.5" y="281.6" width="4.8" height="6.8" fill="#111"/>
<rect x="108.1" y="316.1" width="4.8" height="6.8" fill="#111"/>
<rect x="131.8" y="296.2" width="4.8" height="6.8" fill="#111"/>
<rect x="152.9" y="305.5" width="4.8" height="6.8" fill="#111"/>
<rect x="167.7" y="297.0" width="4.8" height="6.8" fill="#111"/>
<rect x="192.6" y="307.8" width="4.8" height="6.8" fill="#111"/>
<rect x="201.8" y="322.4" width="4.8" height="6.8" fill="#111"/>
<rect x="215.7" y="309.0" width="4.8" height="6.8" fill="#111"/>
<rect x="248.3" y="305.4" width="4.8" height="6.8" fill="#111"/>
<rect x="296.4" y="312.4" width="4.8" height="6.8" fill="#111"/>
<rect x="323.1" y="293.6" width="4.8" height="6.8" fill="#111"/>
<rect x="343.1" y="301.1" width="4.8" height="6.8" fill="#111"/>
<rect x="373.1" y="308.9" width="4.8" height="6.8" fill="#111"/>
<rect x="391.1" y="303.8" width="4.8" height="6.8" fill="#111"/>
<path d="M285.1,312.9L287.4,308.3" stroke="#111" stroke-width="1.2"/>
<path d="M287.3,312.9L289.7,308.3" stroke="#111" stroke-width="1.2"/>
<polyline points="62.3,291.9 64.4,270.8 68.5,261.2 66.8,300.0 71.0,313.0 76.5,297.7 84.8,284.0 91.4,280.0 98.8,326.0 101.9,329.6 110.4,335.8 117.3,331.9 125.0,335.0 131.9,330.4 134.2,325.5 147.3,331.9 155.3,326.5 169.8,329.2 195.0,327.3 203.5,331.2 210.4,330.4 218.1,323.5 251.2,328.1 282.7,326.2" fill="none" stroke="#111" stroke-width="1.4" stroke-linejoin="round" />
<polyline points="289.0,328.0 293.2,337.3 299.3,334.5 305.5,330.4 325.5,329.5 345.5,333.8 375.5,323.0 393.3,328.5 411.5,332.6 466.5,329.6" fill="none" stroke="#111" stroke-width="1.4" stroke-linejoin="round" />
<path d="M58.8,291.9L62.3,286.4L65.8,291.9L62.3,297.4Z" fill="#111"/>
<path d="M60.9,270.8L64.4,265.3L67.9,270.8L64.4,276.3Z" fill="#111"/>
<path d="M65.0,261.2L68.5,255.7L72.0,261.2L68.5,266.7Z" fill="#111"/>
<path d="M67.5,313.0L71.0,307.5L74.5,313.0L71.0,318.5Z" fill="#111"/>
<path d="M73.0,297.7L76.5,292.2L80.0,297.7L76.5,303.2Z" fill="#111"/>
<path d="M81.3,284.0L84.8,278.5L88.3,284.0L84.8,289.5Z" fill="#111"/>
<path d="M87.9,280.0L91.4,274.5L94.9,280.0L91.4,285.5Z" fill="#111"/>
<path d="M95.3,326.0L98.8,320.5L102.3,326.0L98.8,331.5Z" fill="#111"/>
<path d="M98.4,329.6L101.9,324.1L105.4,329.6L101.9,335.1Z" fill="#111"/>
<path d="M106.9,335.8L110.4,330.3L113.9,335.8L110.4,341.3Z" fill="#111"/>
<path d="M113.8,331.9L117.3,326.4L120.8,331.9L117.3,337.4Z" fill="#111"/>
<path d="M121.5,335.0L125.0,329.5L128.5,335.0L125.0,340.5Z" fill="#111"/>
<path d="M128.4,330.4L131.9,324.9L135.4,330.4L131.9,335.9Z" fill="#111"/>
<path d="M130.7,325.5L134.2,320.0L137.7,325.5L134.2,331.0Z" fill="#111"/>
<path d="M143.8,331.9L147.3,326.4L150.8,331.9L147.3,337.4Z" fill="#111"/>
<path d="M151.8,326.5L155.3,321.0L158.8,326.5L155.3,332.0Z" fill="#111"/>
<path d="M166.3,329.2L169.8,323.7L173.3,329.2L169.8,334.7Z" fill="#111"/>
<path d="M191.5,327.3L195.0,321.8L198.5,327.3L195.0,332.8Z" fill="#111"/>
<path d="M200.0,331.2L203.5,325.7L207.0,331.2L203.5,336.7Z" fill="#111"/>
<path d="M206.9,330.4L210.4,324.9L213.9,330.4L210.4,335.9Z" fill="#111"/>
<path d="M214.6,323.5L218.1,318.0L221.6,323.5L218.1,329.0Z" fill="#111"/>
<path d="M247.7,328.1L251.2,322.6L254.7,328.1L251.2,333.6Z" fill="#111"/>
<path d="M279.2,326.2L282.7,320.7L286.2,326.2L282.7,331.7Z" fill="#111"/>
<path d="M289.7,337.3L293.2,331.8L296.7,337.3L293.2,342.8Z" fill="#111"/>
<path d="M295.8,334.5L299.3,329.0L302.8,334.5L299.3,340.0Z" fill="#111"/>
<path d="M302.0,330.4L305.5,324.9L309.0,330.4L305.5,335.9Z" fill="#111"/>
<path d="M322.0,329.5L325.5,324.0L329.0,329.5L325.5,335.0Z" fill="#111"/>
<path d="M342.0,333.8L345.5,328.3L349.0,333.8L345.5,339.3Z" fill="#111"/>
<path d="M372.0,323.0L375.5,317.5L379.0,323.0L375.5,328.5Z" fill="#111"/>
<path d="M389.8,328.5L393.3,323.0L396.8,328.5L393.3,334.0Z" fill="#111"/>
<path d="M408.0,332.6L411.5,327.1L415.0,332.6L411.5,338.1Z" fill="#111"/>
<path d="M463.0,329.6L466.5,324.1L470.0,329.6L466.5,335.1Z" fill="#111"/>
<path d="M285.2,329.8L287.6,325.2" stroke="#111" stroke-width="1.2"/>
<path d="M287.4,329.8L289.8,325.2" stroke="#111" stroke-width="1.2"/>
<line x1="61" y1="237.3" x2="500.5" y2="237.3" stroke="#111" stroke-width="1.8"/>
</svg>
</body></html>
